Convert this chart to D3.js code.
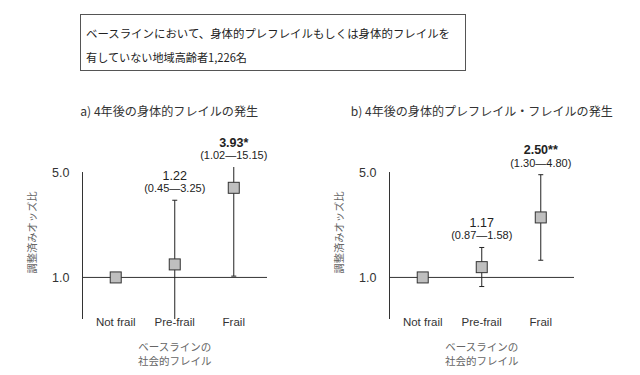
<!DOCTYPE html>
<html>
<head>
<meta charset="utf-8">
<script src="https://cdn.jsdelivr.net/npm/d3@7"></script>
<style>
  body { margin: 0; background: #fff; }
  svg { display: block; }
  .jp { font-family: "Noto Sans CJK JP", "Noto Sans", sans-serif; }
  .num { font-family: "Liberation Sans", Arial, sans-serif; }
</style>
</head>
<body>
<svg id="chart" width="640" height="375"></svg>
<script>
// data
var headerLines = ["ベースラインにおいて、身体的プレフレイルもしくは身体的フレイルを", "有していない地域高齢者1,226名"];
var categories = ["Not frail", "Pre-frail", "Frail"];
var panelTitles = ["a) 4年後の身体的フレイルの発生", "b) 4年後の身体的プレフレイル・フレイルの発生"];
var yLabel = "調整済みオッズ比";
var xTitleLines = ["ベースラインの", "社会的フレイル"];
var yTicks = [1, 5];

// a) physical frailty
var oddsA = [1, 1.22, 3.93];
var lowerA = [null, 0.45, 1.02];
var upperA = [null, 3.25, 15.15];
var signifA = ["", "", "*"];

// b) physical pre-frailty / frailty
var oddsB = [1, 1.17, 2.50];
var lowerB = [null, 0.87, 1.30];
var upperB = [null, 1.58, 4.80];
var signifB = ["", "", "**"];

var svg = d3.select("#chart");

/* HEADER BOX */
svg.append("rect")
    .attr("x", 80.5).attr("y", 14.5)
    .attr("width", 385).attr("height", 56)
    .attr("fill", "none")
    .attr("stroke", "#555")
    .attr("stroke-width", 1);

var headerWidths = [364, 161];
svg.selectAll("text.header")
    .data(headerLines)
    .enter()
    .append("text")
    .classed("header jp", true)
    .attr("x", 86)
    .attr("y", function (d, i) { return 38 + i * 23.5; })
    .attr("font-size", 11.3)
    .attr("textLength", function (d, i) { return headerWidths[i]; })
    .attr("lengthAdjust", "spacingAndGlyphs")
    .attr("fill", "#222")
    .text(function (d) { return d; });

function forestPanel() {
    var left = 0,
        axisWidth = 184.5,
        title = "",
        titleShift = 0,
        titleWidth = 180,
        odds, lower, upper, signif;

    var fmt = d3.format(".2f");

    function chart(selection) {
        var g = selection.append("g")
            .attr("transform", "translate(" + left + ",0)");

        var x = d3.scalePoint()
            .domain(categories)
            .range([0, axisWidth])
            .padding(0.563);

        // log scale of the odds ratio, plot area runs from 319 up to 167
        var y = d3.scaleLog()
            .domain([0.53, 5.4])
            .range([319, 167])
            .clamp(true);

        var rows = categories.map(function (c, i) {
            return {cat: c, or: odds[i], lo: lower[i], hi: upper[i], sig: signif[i]};
        });

        // title
        g.append("text")
            .classed("jp", true)
            .attr("x", x(categories[1]) + titleShift)
            .attr("y", 116)
            .attr("text-anchor", "middle")
            .attr("font-size", 12)
            .attr("textLength", titleWidth)
            .attr("lengthAdjust", "spacingAndGlyphs")
            .attr("fill", "#333")
            .text(title);

        // y axis line
        g.append("line")
            .attr("x1", 0).attr("x2", 0)
            .attr("y1", y(5)).attr("y2", y(0.53))
            .attr("stroke", "#333");

        // reference line at OR = 1
        g.append("line")
            .attr("x1", 0).attr("x2", axisWidth)
            .attr("y1", y(1)).attr("y2", y(1))
            .attr("stroke", "#333");

        var yAxis = g.append("g")
            .call(d3.axisLeft(y).tickValues(yTicks).tickFormat(d3.format(".1f")).tickSize(0).tickPadding(13));
        yAxis.select(".domain").remove();
        yAxis.selectAll("text")
            .attr("class", "num")
            .attr("font-size", 12.5)
            .attr("fill", "#333");

        // y label
        g.append("text")
            .classed("jp", true)
            .attr("transform", "translate(-47," + 232.5 + ") rotate(-90)")
            .attr("text-anchor", "middle")
            .attr("font-size", 10.5)
            .attr("textLength", 82)
            .attr("lengthAdjust", "spacingAndGlyphs")
            .attr("fill", "#666")
            .text(yLabel);

        // category labels
        g.selectAll("text.cat")
            .data(categories)
            .enter()
            .append("text")
            .classed("cat num", true)
            .attr("x", function (d) { return x(d); })
            .attr("y", 326)
            .attr("text-anchor", "middle")
            .attr("font-size", 11.5)
            .attr("fill", "#333")
            .text(function (d) { return d; });

        // x title
        g.selectAll("text.xtitle")
            .data(xTitleLines)
            .enter()
            .append("text")
            .classed("xtitle jp", true)
            .attr("x", x(categories[1]))
            .attr("y", function (d, i) { return 351 + i * 14; })
            .attr("text-anchor", "middle")
            .attr("font-size", 10.5)
            .attr("fill", "#666")
            .text(function (d) { return d; });

        var withCI = rows.filter(function (d) { return d.lo != null; });

        // whiskers
        g.selectAll("line.ci")
            .data(withCI)
            .enter()
            .append("line")
            .classed("ci", true)
            .attr("x1", function (d) { return x(d.cat); })
            .attr("x2", function (d) { return x(d.cat); })
            .attr("y1", function (d) { return y(d.lo); })
            .attr("y2", function (d) { return y(d.hi); })
            .attr("stroke", "#222");

        // caps, only where the bound is inside the plot
        var caps = [];
        withCI.forEach(function (d) {
            [d.lo, d.hi].forEach(function (v) {
                var dom = y.domain();
                if (v > dom[0] && v < dom[1]) caps.push({cat: d.cat, v: v});
            });
        });
        g.selectAll("line.cap")
            .data(caps)
            .enter()
            .append("line")
            .classed("cap", true)
            .attr("x1", function (d) { return x(d.cat) - 2.5; })
            .attr("x2", function (d) { return x(d.cat) + 2.5; })
            .attr("y1", function (d) { return y(d.v); })
            .attr("y2", function (d) { return y(d.v); })
            .attr("stroke", "#222");

        // point estimates
        g.selectAll("rect.pt")
            .data(rows)
            .enter()
            .append("rect")
            .classed("pt", true)
            .attr("x", function (d) { return x(d.cat) - 5.5; })
            .attr("y", function (d) { return y(d.or) - 5.5; })
            .attr("width", 11)
            .attr("height", 11)
            .attr("fill", "#bfbfbf")
            .attr("stroke", "#333");

        // value labels above each whisker
        g.selectAll("text.val")
            .data(withCI)
            .enter()
            .append("text")
            .classed("val num", true)
            .attr("x", function (d) { return x(d.cat); })
            .attr("y", function (d) { return y(d.hi) - 20.5; })
            .attr("text-anchor", "middle")
            .attr("font-size", 12.5)
            .attr("font-weight", function (d) { return d.sig ? "bold" : "normal"; })
            .attr("fill", "#222")
            .text(function (d) { return fmt(d.or) + d.sig; });

        g.selectAll("text.civ")
            .data(withCI)
            .enter()
            .append("text")
            .classed("civ num", true)
            .attr("x", function (d) { return x(d.cat); })
            .attr("y", function (d) { return y(d.hi) - 8; })
            .attr("text-anchor", "middle")
            .attr("font-size", 11)
            .attr("fill", "#222")
            .text(function (d) { return "(" + fmt(d.lo) + "—" + fmt(d.hi) + ")"; });
    }

    chart.left = function (_) { left = _; return chart; };
    chart.title = function (_) { title = _; return chart; };
    chart.titleShift = function (_) { titleShift = _; return chart; };
    chart.titleWidth = function (_) { titleWidth = _; return chart; };
    chart.data = function (o, l, u, s) {
        odds = o; lower = l; upper = u; signif = s;
        return chart;
    };

    return chart;
}

svg.call(forestPanel().left(82.5).title(panelTitles[0]).titleShift(-5.5).titleWidth(178)
    .data(oddsA, lowerA, upperA, signifA));
svg.call(forestPanel().left(389.5).title(panelTitles[1]).titleShift(0).titleWidth(262)
    .data(oddsB, lowerB, upperB, signifB));
</script>
</body>
</html>
